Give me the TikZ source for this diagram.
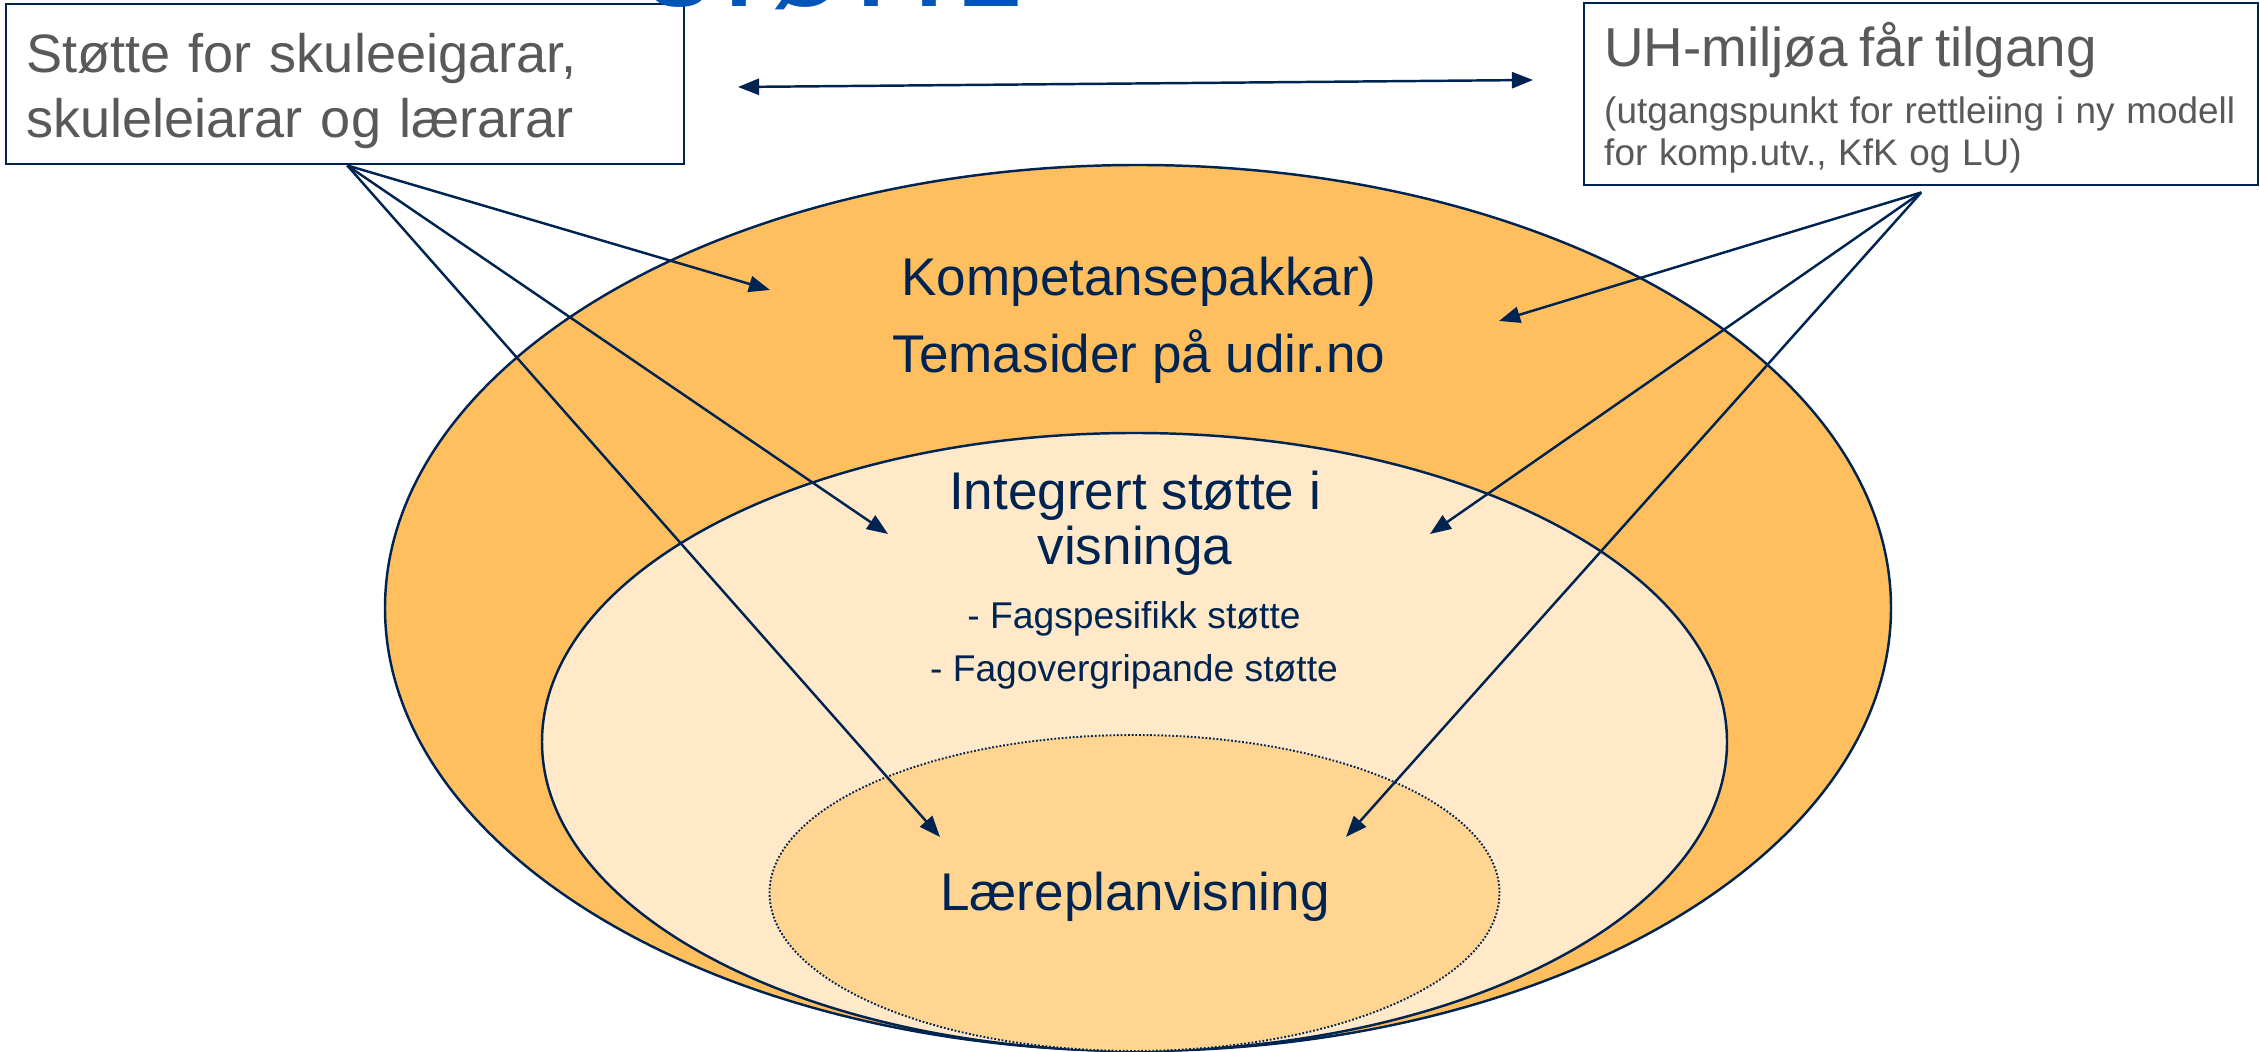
\documentclass[tikz,border=0pt]{standalone}
\usepackage{fontspec}
\setmainfont{Liberation Sans}
\tikzset{
every picture/.style={
line width=0.7pt
}}
\usepackage{tikz}
\usetikzlibrary{positioning, calc}
\usetikzlibrary{arrows.meta}
\definecolor{udirnavy}{HTML}{002452}
\definecolor{udirgrey}{HTML}{595959}
\definecolor{udirblue}{HTML}{0055B8}
\definecolor{ringouter}{HTML}{FFBF5F}
\definecolor{ringmid}{HTML}{FFE9C8}
\definecolor{ringinner}{HTML}{FFD591}
\tikzset{
  >={Triangle[length=6pt, width=4.6pt]},
  sidebox/.style={draw, fill=white, anchor=north west, align=left, text=udirgrey, inner xsep=0.2cm},
  ringtext/.style={align=center, inner sep=0pt}
}
\newcommand{\rings}{
  \draw [fill=ringouter] (11.38,-6.08) ellipse (7.53 and 4.43);
  \draw [fill=ringmid] (11.345,-7.42) ellipse (5.925 and 3.09);
  \draw [fill=ringinner, line width=0.55pt, dash pattern=on 0.5pt off 0.55pt] (11.345,-8.93) ellipse (3.65 and 1.58);
}

\begin{document}
\begin{tikzpicture}[color=udirnavy]
  \useasboundingbox (0,0) rectangle (22.6,-10.52);
  \rings

  \node [ringtext, font=\fontsize{15.1}{21.9}\selectfont] (pakkar) at (11.39,-3.2) {Kompetansepakkar)\\Temasider på udir.no};
  \node [ringtext, font=\fontsize{15.1}{15.6}\selectfont] (visning) at (11.35,-5.235) {Integrert støtte i\\visninga};
  \node [ringtext, font=\fontsize{10.6}{15.1}\selectfont] (fag) at (11.34,-6.45) {- Fagspesifikk støtte\\- Fagovergripande støtte};
  \node [ringtext, anchor=base, font=\fontsize{15.1}{18}\selectfont] (lp) at (11.35,-9.11) {Læreplanvisning};

  \node [sidebox, minimum width=6.78cm, minimum height=1.6cm, text width=6.38cm, font=\fontsize{15.4}{18.6}\selectfont] (eigar) at (0.05,-0.03)
    {\rule{0pt}{15pt}Støtte for skuleeigarar,\\skuleleiarar og lærarar};
  \node [sidebox, minimum width=6.74cm, minimum height=1.82cm, text width=6.34cm] (uh) at (15.83,-0.02)
    {\fontsize{15.6}{18}\selectfont\rule{0pt}{14.6pt}UH-miljøa får tilgang\\[3.5pt]\fontsize{10.5}{12.8}\selectfont (utgangspunkt for rettleiing i ny modell\\for komp.utv., KfK og LU)};

  \coordinate (eigar-out) at ($(eigar.south)+(0.02,0)$);
  \coordinate (uh-out) at ($(uh.south)+(0,-0.06)$);
  \foreach \x/\y [count=\i] in {7.70/2.90, 8.88/5.34, 9.40/8.37} {
    \coordinate (l\i) at (\x,-\y);
    \draw [->] (eigar-out) -- (l\i);
  }
  \foreach \x/\y [count=\i] in {14.99/3.21, 14.30/5.34, 13.46/8.37} {
    \coordinate (r\i) at (\x,-\y);
    \draw [->] (uh-out) -- (r\i);
  }

  \coordinate (bl) at (7.38,-0.87);
  \coordinate (br) at (15.33,-0.80);
  \draw [<->] (bl) -- (br);

  % heading, only its foot is on the page
  \node [anchor=base west, inner sep=0pt, text=udirblue, font=\fontsize{27}{30}\selectfont\bfseries] (tittel) at (6.46,-0.07) {STØTTE};
\end{tikzpicture}
\end{document}
